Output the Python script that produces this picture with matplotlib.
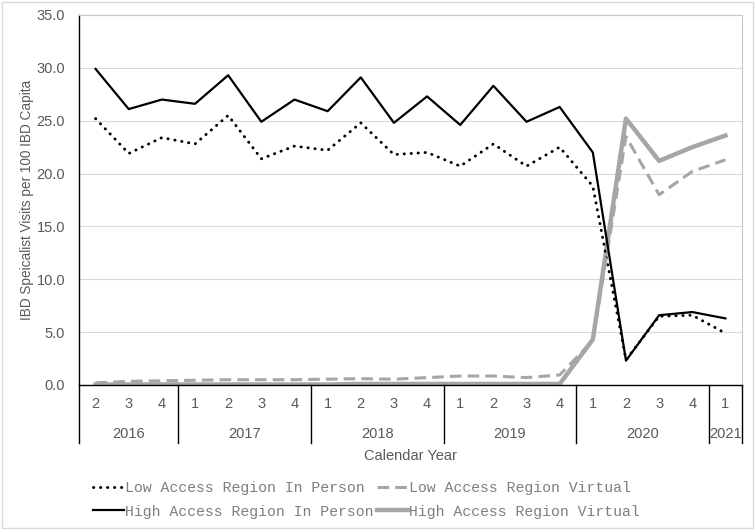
import matplotlib

matplotlib.use("Agg")
import matplotlib.pyplot as plt
from matplotlib.patches import Rectangle

# quarterly data, 2016 Q2 .. 2021 Q1
quarters = ["2", "3", "4", "1", "2", "3", "4", "1", "2", "3", "4",
            "1", "2", "3", "4", "1", "2", "3", "4", "1"]
years = ["2016", "2017", "2018", "2019", "2020", "2021"]
quarters_per_year = [3, 4, 4, 4, 4, 1]

low_in_person = [25.2, 21.9, 23.4, 22.8, 25.5, 21.4, 22.6, 22.2, 24.8, 21.8,
                 22.0, 20.7, 22.8, 20.7, 22.5, 18.8, 2.4, 6.5, 6.6, 4.9]
low_virtual = [0.2, 0.35, 0.4, 0.45, 0.5, 0.5, 0.5, 0.55, 0.6, 0.55,
               0.7, 0.85, 0.85, 0.7, 0.95, 4.2, 23.5, 18.0, 20.2, 21.3]
high_in_person = [29.9, 26.1, 27.0, 26.6, 29.3, 24.9, 27.0, 25.9, 29.1, 24.8,
                  27.3, 24.6, 28.3, 24.9, 26.3, 22.0, 2.3, 6.6, 6.9, 6.3]
high_virtual = [0.05, 0.05, 0.05, 0.05, 0.05, 0.05, 0.05, 0.05, 0.1, 0.1,
                0.1, 0.1, 0.1, 0.1, 0.1, 4.3, 25.2, 21.2, 22.5, 23.6]

W, H = 755, 530
fig = plt.figure(figsize=(W / 100, H / 100), dpi=100)
ax = fig.add_axes([79 / W, (H - 385) / H, (742 - 79) / W, (385 - 15) / H])

x = list(range(len(quarters)))
grey = "#a6a6a6"
txt = "#595959"

l1, = ax.plot(x, low_in_person, color="black", lw=2.1, linestyle=(0, (0.1, 2.3)),
              dash_capstyle="round", label="Low Access Region In Person", zorder=3)
l2, = ax.plot(x, low_virtual, color=grey, lw=2.2, linestyle=(0, (3.8, 2)),
              label="Low Access Region Virtual", zorder=3)
l3, = ax.plot(x, high_in_person, color="black", lw=1.6,
              label="High Access Region In Person", zorder=3)
l4, = ax.plot(x, high_virtual, color=grey, lw=3.2,
              label="High Access Region Virtual", zorder=2)

ax.set_xlim(-0.5, len(quarters) - 0.5)
ax.set_ylim(0, 35)
ax.set_yticks(range(0, 36, 5))
ax.set_yticklabels([f"{v:.1f}" for v in range(0, 36, 5)])
ax.yaxis.grid(True, color="#d9d9d9", lw=0.8)
ax.set_axisbelow(True)

ax.set_xticks(x)
ax.set_xticklabels(quarters)
ax.tick_params(axis="x", length=0, pad=9, labelsize=10.5, labelcolor=txt)
ax.tick_params(axis="y", length=0, pad=10, labelsize=10.5, labelcolor=txt)
for lab in ax.get_xticklabels() + ax.get_yticklabels():
    lab.set_family("Liberation Sans")

for side in ["top", "right"]:
    ax.spines[side].set_color("#c8c8c8")
    ax.spines[side].set_linestyle((0, (1, 1)))
    ax.spines[side].set_linewidth(0.8)
ax.spines["left"].set_color("black")
ax.spines["left"].set_linewidth(1.0)
ax.spines["bottom"].set_color("black")
ax.spines["bottom"].set_linewidth(1.0)

# year level of the category axis
sep_depth = -58 / 370
start = -0.5
trans = ax.get_xaxis_transform()
ax.plot([start, start], [0, sep_depth], transform=trans, color="black", lw=1.0, clip_on=False)
for yr, n in zip(years, quarters_per_year):
    end = start + n
    ax.plot([end, end], [0, sep_depth], transform=trans, color="black", lw=1.0, clip_on=False)
    ax.annotate(yr, xy=((start + end) / 2, 0), xycoords=trans, xytext=(0, -35.5),
                textcoords="offset points", ha="center", va="center",
                fontsize=10.5, color=txt, family="Liberation Sans")
    start = end

ax.set_ylabel("IBD Speicalist Visits per 100 IBD Capita", fontsize=9.8, color=txt,
              family="Liberation Sans")
ax.yaxis.set_label_coords(-45 / 663, 0.5)

fig.text(410.5 / W, (H - 456) / H, "Calendar Year", ha="center", va="center",
         fontsize=10.5, color=txt, family="Liberation Sans")

leg = fig.legend(handles=[l1, l3, l2, l4], ncol=2, loc="upper left",
                 bbox_to_anchor=(93 / W, (H - 481) / H), frameon=False,
                 prop={"family": "Liberation Mono", "size": 10.7},
                 handlelength=2.1, handletextpad=0.05, columnspacing=0.25,
                 labelspacing=0.65, borderpad=0, borderaxespad=0)
for t in leg.get_texts():
    t.set_color("#7f7f7f")

fig.patches.append(Rectangle((1.5 / W, 2 / H), 751 / W, 526 / H, transform=fig.transFigure,
                             fill=False, edgecolor="#d9d9d9", lw=1.0))

fig.savefig("out.png", dpi=100)
